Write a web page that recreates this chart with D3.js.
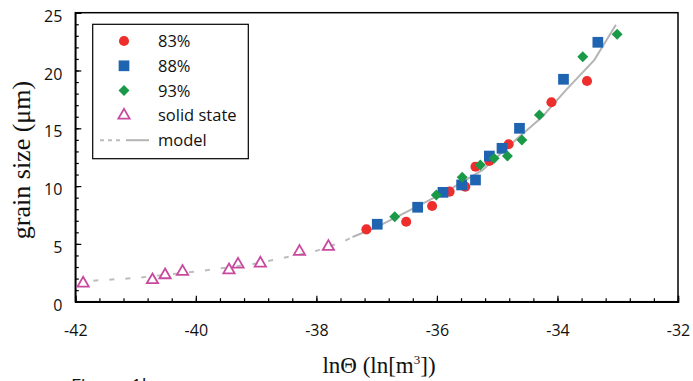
<!DOCTYPE html>
<html>
<head>
<meta charset="utf-8">
<script src="https://cdn.jsdelivr.net/npm/d3@7"></script>
<style>
  body { margin: 0; background: #fff; }
</style>
</head>
<body>
<div id="chart"></div>
<script>
// data
const lnTheta83 = [-37.17, -36.51, -36.08, -35.79, -35.53, -35.36, -35.13, -34.81, -34.10, -33.51]
const size83 = [6.26, 6.92, 8.28, 9.52, 9.95, 11.68, 12.17, 13.62, 17.25, 19.09]

const lnTheta88 = [-36.99, -36.32, -35.90, -35.59, -35.36, -35.13, -34.92, -34.63, -33.90, -33.33]
const size88 = [6.70, 8.17, 9.46, 10.10, 10.53, 12.60, 13.27, 15.0, 19.24, 22.44]

const lnTheta93 = [-36.70, -36.01, -35.58, -35.28, -35.05, -34.83, -34.59, -34.30, -33.58, -33.01]
const size93 = [7.35, 9.23, 10.76, 11.83, 12.40, 12.60, 13.99, 16.16, 21.19, 23.13]

const lnThetaSolid = [-41.87, -40.72, -40.51, -40.22, -39.45, -39.30, -38.93, -38.28, -37.80]
const sizeSolid = [1.59, 1.88, 2.31, 2.60, 2.74, 3.23, 3.32, 4.33, 4.76]

// model curve: dashed part (extrapolated) and solid part
const modelDashX = [-41.7, -41.0, -40.0, -39.0, -38.66, -38.0, -37.56, -37.4]
const modelDashY = [1.82, 2.05, 2.6, 3.3, 3.67, 4.4, 5.19, 5.6]
const modelSolidX = [-37.4, -37.0, -36.34, -35.79, -35.24, -34.69, -34.25, -33.86, -33.39, -33.03]
const modelSolidY = [5.6, 6.45, 8.2, 9.7, 11.4, 14.0, 16.0, 18.3, 20.9, 23.95]

const xTicks = [-42, -40, -38, -36, -34, -32]
const yTicks = [0, 5, 10, 15, 20, 25]
const legendLabels = ['83%', '88%', '93%', 'solid state', 'model']

const W = 693, H = 381
const margin = { top: 12.7, right: 15, bottom: 79.3, left: 75.3 }
const width = W - margin.left - margin.right
const height = H - margin.top - margin.bottom
const sans = '"Open Sans", "Noto Sans", sans-serif'
const serif = '"Liberation Serif", "DejaVu Serif", serif'

const svg = d3.select('#chart').append('svg')
    .attr('width', W)
    .attr('height', H)

const g = svg.append('g')
    .attr('transform', `translate(${margin.left}, ${margin.top})`)

const x = d3.scaleLinear().domain([-42, -32]).range([0, width])
const y = d3.scaleLinear().domain([0, 25]).range([height, 0])

const zip = (a, b) => a.map((v, i) => [v, b[i]])

// frame
g.append('rect')
    .attr('width', width)
    .attr('height', height)
    .attr('fill', 'none')
    .attr('stroke', '#000')
    .attr('stroke-width', 1.5)

// minor ticks (inward)
const xMinor = d3.range(-42, -32 + 0.001, 0.4).map(v => +v.toFixed(2))
const yMinor = d3.range(0, 26, 1)

g.append('g')
    .attr('transform', `translate(0, ${height})`)
    .call(d3.axisBottom(x).tickValues(xMinor).tickSize(-3.5).tickFormat(''))
    .call(a => a.select('.domain').remove())

g.append('g')
    .call(d3.axisLeft(y).tickValues(yMinor).tickSize(-3.5).tickFormat(''))
    .call(a => a.select('.domain').remove())

// major ticks + labels
const xAxis = g.append('g')
    .attr('transform', `translate(0, ${height})`)
    .call(d3.axisBottom(x).tickValues(xTicks).tickSize(-6).tickPadding(0).tickFormat(d => d))
xAxis.select('.domain').attr('stroke-width', 1.5)
xAxis.selectAll('text').attr('font-size', 16).attr('fill', '#111')
    .attr('y', 34.5).attr('dy', 0).attr('font-family', sans)

const yAxis = g.append('g')
    .call(d3.axisLeft(y).tickValues(yTicks).tickSize(-6).tickFormat(d => d))
yAxis.select('.domain').attr('stroke-width', 1.5)
yAxis.selectAll('text').attr('font-size', 16).attr('fill', '#111')
    .attr('x', -13).attr('dy', 0).attr('y', 8.5).attr('font-family', sans)
g.selectAll('.tick line').attr('stroke', '#000').attr('stroke-width', 1.2)

// model line
const line = d3.line().x(d => x(d[0])).y(d => y(d[1])).curve(d3.curveLinear)

g.append('path')
    .datum(zip(modelDashX, modelDashY))
    .attr('d', line)
    .attr('fill', 'none')
    .attr('stroke', '#bdbdbd')
    .attr('stroke-width', 2)
    .attr('stroke-dasharray', '5,11')

g.append('path')
    .datum(zip(modelSolidX, modelSolidY))
    .attr('d', line)
    .attr('fill', 'none')
    .attr('stroke', '#b4b4b4')
    .attr('stroke-width', 2)

// markers
const red = '#ee2d2d', blue = '#1f64b1', green = '#1a9a48', pink = '#c84a9f'
const circleSym = d3.symbol().type(d3.symbolCircle).size(80)
const squareSym = d3.symbol().type(d3.symbolSquare).size(115)
const diamondSym = d3.symbol().type(d3.symbolSquare).size(60)
const triSym = d3.symbol().type(d3.symbolTriangle).size(55)

function drawPoints(xs, ys, sym, style, rot) {
    g.append('g').selectAll('path')
        .data(zip(xs, ys))
        .join('path')
        .attr('d', sym)
        .attr('transform', d => `translate(${x(d[0])}, ${y(d[1])})${rot ? ' rotate(45)' : ''}`)
        .call(style)
}

drawPoints(lnThetaSolid, sizeSolid, triSym, s => s.attr('fill', 'none').attr('stroke', pink).attr('stroke-width', 1.8))
drawPoints(lnTheta83, size83, circleSym, s => s.attr('fill', red))
drawPoints(lnTheta88, size88, squareSym, s => s.attr('fill', blue))
drawPoints(lnTheta93, size93, diamondSym, s => s.attr('fill', green), true)

// legend
const legend = svg.append('g')
legend.append('rect')
    .attr('x', 92.7).attr('y', 24.3)
    .attr('width', 155.6).attr('height', 134.4)
    .attr('fill', '#fff').attr('stroke', '#000').attr('stroke-width', 1.2)

const rowY = i => 41 + i * 24.8
const legendSyms = [
    s => s.attr('d', circleSym).attr('fill', red),
    s => s.attr('d', squareSym).attr('fill', blue),
    s => s.attr('d', diamondSym).attr('fill', green),
    s => s.attr('d', triSym).attr('fill', 'none').attr('stroke', pink).attr('stroke-width', 1.8)
]
legendSyms.forEach((f, i) => {
    legend.append('path')
        .attr('transform', `translate(124, ${rowY(i)})${i === 2 ? ' rotate(45)' : ''}`)
        .call(f)
})
legend.append('line')
    .attr('x1', 100).attr('x2', 120).attr('y1', rowY(4)).attr('y2', rowY(4))
    .attr('stroke', '#bdbdbd').attr('stroke-width', 2).attr('stroke-dasharray', '4,4')
legend.append('line')
    .attr('x1', 126).attr('x2', 149).attr('y1', rowY(4)).attr('y2', rowY(4))
    .attr('stroke', '#b4b4b4').attr('stroke-width', 2)

legend.selectAll('.lbl')
    .data(legendLabels)
    .join('text')
    .attr('class', 'lbl')
    .attr('x', 158)
    .attr('y', (d, i) => rowY(i) + 6)
    .attr('font-family', sans)
    .attr('font-size', 16.5)
    .attr('fill', '#111')
    .text(d => d)

// axis titles
const xTitle = svg.append('text')
    .attr('x', 379).attr('y', 373)
    .attr('text-anchor', 'middle')
    .attr('font-family', serif)
    .attr('font-size', 23)
    .attr('fill', '#111')
xTitle.append('tspan').text('lnΘ (ln[m')
xTitle.append('tspan').attr('font-size', 13).attr('dy', -9).text('3')
xTitle.append('tspan').attr('dy', 9).text('])')

svg.append('text')
    .attr('transform', 'translate(30, 160) rotate(-90)')
    .attr('text-anchor', 'middle')
    .attr('font-family', serif)
    .attr('font-size', 26)
    .attr('fill', '#111')
    .text('grain size (μm)')

// caption, cut off at the bottom edge as in the source figure
svg.append('text')
    .attr('x', 71).attr('y', 392)
    .attr('font-family', sans)
    .attr('font-size', 19)
    .attr('fill', '#111')
    .text('Figure 1b')
</script>
</body>
</html>
